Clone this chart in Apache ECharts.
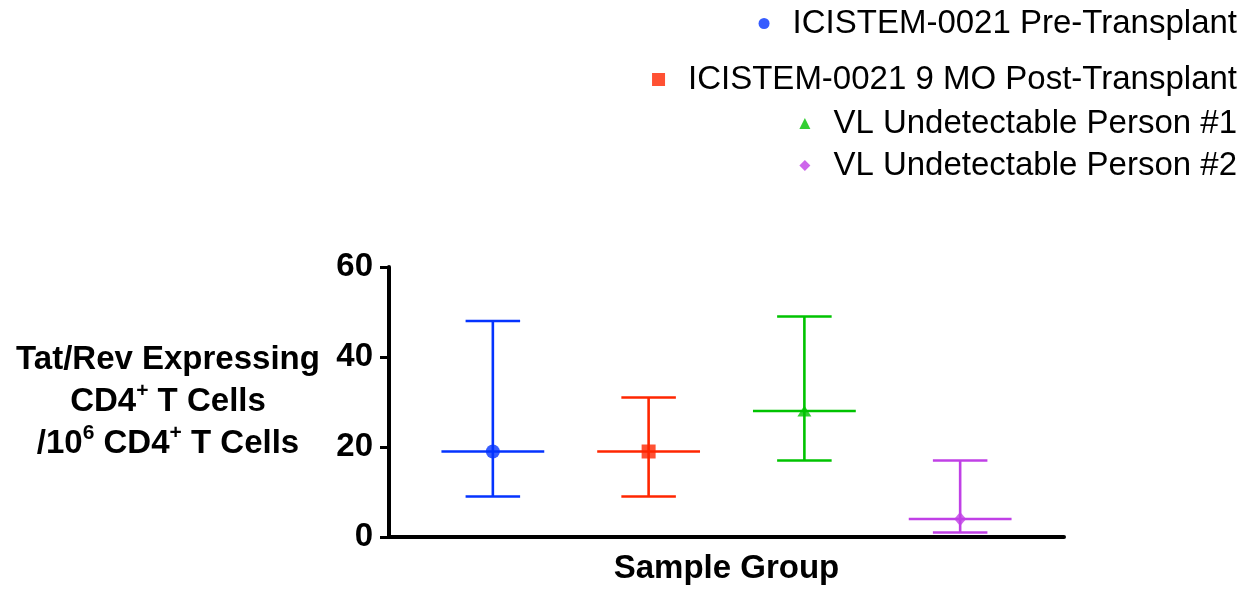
<!DOCTYPE html>
<html>
<head>
<meta charset="utf-8">
<script src="https://cdn.jsdelivr.net/npm/echarts@6/dist/echarts.min.js"></script>
<style>
  html, body { margin: 0; padding: 0; background: #fff; }
  #chart { width: 1257px; height: 590px; }
</style>
</head>
<body>
<div id="chart"></div>
<script>
// 数据
var groups = ['ICISTEM-0021 Pre-Transplant', 'ICISTEM-0021 9 MO Post-Transplant', 'VL Undetectable Person #1', 'VL Undetectable Person #2'];
var medians = [19, 19, 28, 4];
var lowers = [9, 9, 17, 1];
var uppers = [48, 31, 49, 17];
var yTicks = [0, 20, 40, 60];

// 样式
var colors = ['#0433ff', '#ff2600', '#00c300', '#c040e6'];
var symbols = ['circle', 'rect', 'triangle', 'diamond'];
var symbolSizes = [14, 14, [14, 11], [12, 14]];
var legendTops = [7, 63, 107, 149];
var legendSizes = [11, 13, 11, 11];
var font = 'Liberation Sans, Arial, Helvetica, sans-serif';

var myChart = echarts.init(document.getElementById('chart'));

var errData = groups.map(function (g, i) {
    return [i + 1, medians[i], lowers[i], uppers[i], i];
});

var series = [{
    type: 'custom',
    name: 'err',
    z: 2,
    data: errData,
    renderItem: function (params, api) {
        var x = api.value(0);
        var ci = api.value(4);
        var c = api.coord([x, api.value(1)]);
        var lo = api.coord([x, api.value(2)]);
        var hi = api.coord([x, api.value(3)]);
        var meanHalf = api.size([0.33, 0])[0];
        var capHalf = api.size([0.175, 0])[0];
        var st = { stroke: colors[ci], lineWidth: 2.6 };
        return {
            type: 'group',
            children: [
                { type: 'line', shape: { x1: c[0], y1: hi[1], x2: c[0], y2: lo[1] }, style: st },
                { type: 'line', shape: { x1: c[0] - capHalf, y1: hi[1], x2: c[0] + capHalf, y2: hi[1] }, style: st },
                { type: 'line', shape: { x1: c[0] - capHalf, y1: lo[1], x2: c[0] + capHalf, y2: lo[1] }, style: st },
                { type: 'line', shape: { x1: c[0] - meanHalf, y1: c[1], x2: c[0] + meanHalf, y2: c[1] }, style: st }
            ]
        };
    }
}];

groups.forEach(function (g, i) {
    series.push({
        type: 'scatter',
        name: g,
        z: 3,
        symbol: symbols[i],
        symbolSize: symbolSizes[i],
        itemStyle: { color: colors[i] },
        data: [[i + 1, medians[i]]]
    });
});

var legends = groups.map(function (g, i) {
    return {
        data: [g],
        right: 20,
        top: legendTops[i],
        padding: 0,
        itemWidth: legendSizes[i],
        itemHeight: legendSizes[i],
        selectedMode: false,
        textStyle: { fontSize: 33, color: '#000', fontFamily: font, padding: [0, 0, 0, 18] }
    };
});

var option = {
    backgroundColor: '#fff',
    animation: false,
    title: {
        text: '{b|Tat/Rev Expressing}\n{b|CD4}{s|+}{b| T Cells}\n{b|/10}{s|6}{b| CD4}{s|+}{b| T Cells}',
        left: 163,
        top: 334,
        textAlign: 'center',
        textStyle: {
            rich: {
                b: { fontSize: 33, fontWeight: 'bold', color: '#000', fontFamily: font, lineHeight: 42 },
                s: { fontSize: 21, fontWeight: 'bold', color: '#000', fontFamily: font, lineHeight: 42, verticalAlign: 'top', padding: [0, 0, 14, 0] }
            }
        }
    },
    legend: legends,
    grid: { left: 389, right: 193, top: 267, bottom: 53 },
    xAxis: {
        type: 'value',
        min: 1 / 3,
        max: 14 / 3,
        name: 'Sample Group',
        nameLocation: 'middle',
        nameGap: 15,
        nameTextStyle: { fontSize: 33, fontWeight: 'bold', color: '#000', fontFamily: font, verticalAlign: 'top' },
        axisLine: { lineStyle: { color: '#000', width: 4 } },
        axisTick: { show: false },
        axisLabel: { show: false },
        splitLine: { show: false }
    },
    yAxis: {
        type: 'value',
        min: yTicks[0],
        max: yTicks[yTicks.length - 1],
        interval: yTicks[1] - yTicks[0],
        axisLine: { show: true, lineStyle: { color: '#000', width: 4 } },
        axisTick: { show: true, length: 9, lineStyle: { color: '#000', width: 3 } },
        axisLabel: { fontSize: 33, fontWeight: 'bold', color: '#000', fontFamily: font, margin: 16 },
        splitLine: { show: false }
    },
    series: series
};

myChart.setOption(option);
</script>
</body>
</html>
